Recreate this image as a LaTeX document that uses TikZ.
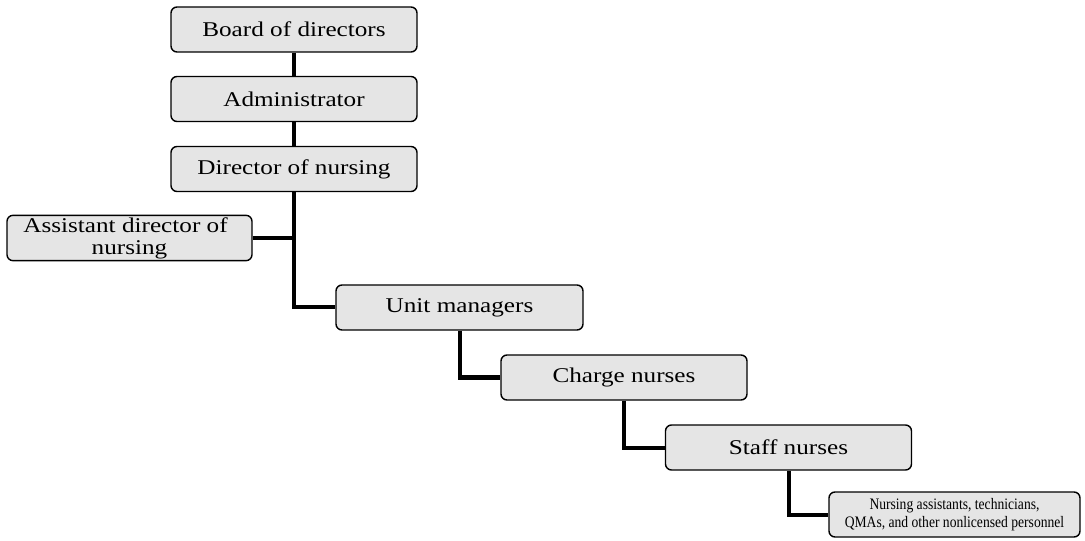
\documentclass[tikz,border=0pt]{standalone}
\usepackage{fontspec}
\setmainfont{Liberation Serif}[FakeStretch=1.2]
\newfontfamily\narrowserif{Liberation Serif}[FakeStretch=0.85]
\begin{document}
\begin{tikzpicture}[x=1bp,y=-1bp,
  orgbox/.style={draw=black, line width=1.4bp, fill=black!10, rounded corners=6bp,
    minimum width=246bp, minimum height=45bp, inner sep=2bp, align=center,
    font=\fontsize{21bp}{22bp}\selectfont},
  link/.style={line width=4bp}]
\useasboundingbox (0,0) rectangle (1085,541);
\node[orgbox] (board) at (294,29.5) {Board of directors};
\node[orgbox] (admin) at (294,99) {Administrator};
\node[orgbox] (dir) at (294,169) {Director of nursing};
\node[orgbox, minimum width=245bp] (asst) at (129.5,238) {\hspace*{-8bp}Assistant director of\\nursing};
\node[orgbox, minimum width=247bp] (unit) at (459.5,307.5) {Unit managers};
\node[orgbox] (charge) at (624,377.5) {Charge nurses};
\node[orgbox] (staff) at (788.5,447.5) {Staff nurses};
\node[orgbox, minimum width=251bp, inner sep=1bp, font=\narrowserif\fontsize{16bp}{18bp}\selectfont] (na) at (954.5,514.5) {Nursing assistants, technicians,\\QMAs, and other nonlicensed personnel};
\draw[link] (board) -- (admin);
\draw[link] (admin) -- (dir);
\draw[link] (dir.south) |- (unit.west);
\draw[link] (asst.east) -- (dir.south |- asst.east);
\draw[link] (unit.south) |- (charge.west);
\draw[link] (charge.south) |- (staff.west);
\draw[link] (staff.south) |- (na.west);
\end{tikzpicture}
\end{document}
